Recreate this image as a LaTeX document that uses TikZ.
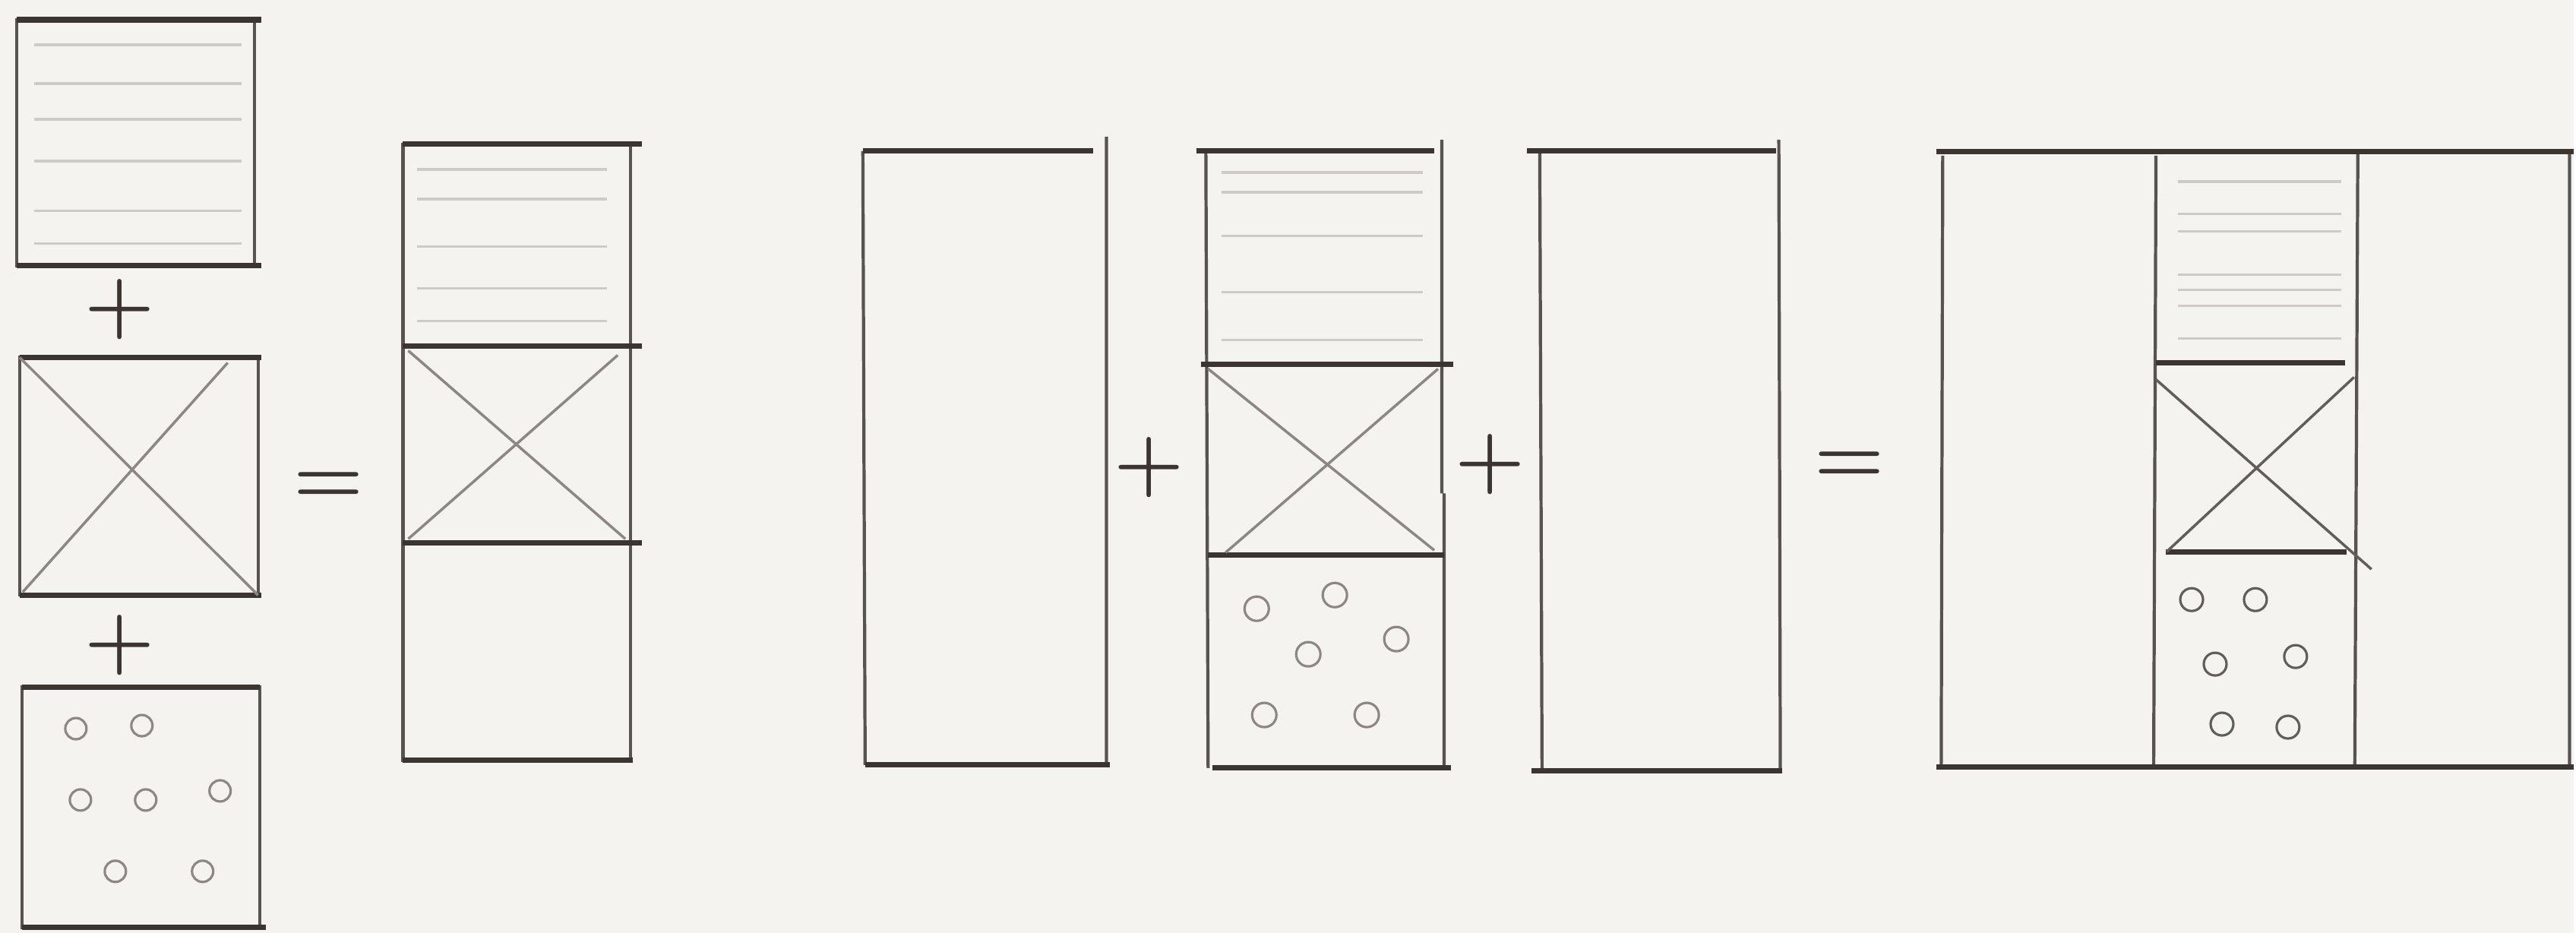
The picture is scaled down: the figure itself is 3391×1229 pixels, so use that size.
\documentclass[tikz,border=0pt]{standalone}
\usepackage{tikz}
\usetikzlibrary{positioning, calc}
\definecolor{paper}{HTML}{F4F3F0}
\definecolor{pencildark}{HTML}{3B3431}
\definecolor{pencilgrey}{HTML}{8E8683}
\definecolor{pencilfaint}{HTML}{CFCAC6}
\tikzset{
  edge/.style={draw=pencildark, line width=2pt},
  side/.style={draw=pencildark!85, line width=1.2pt},
  cross/.style={draw=pencilgrey, line width=1pt},
  hatch/.style={draw=pencilfaint, line width=1pt},
  grain/.style={draw=pencilgrey, line width=0.9pt},
  sign/.style={text=pencildark, font=\fontsize{30}{30}\selectfont\bfseries, inner sep=0pt}
}

\begin{document}
\begin{tikzpicture}[x=0.01cm, y=-0.01cm]
          % Papel
          \fill[paper] (0,0) rectangle (3391,1229);
          % Bloques sueltos (izquierda)
          \draw[side] (22,26) rectangle (335,350);
          \draw[edge] (22,26) -- (344,26) (22,350) -- (344,350);
          \foreach \yy in {59,110,157,212,278,321}
            \draw[hatch] (45,\yy) -- (318,\yy);
          \node[sign] (plusa) at (158,408) {+};
          \draw[side] (26,471) rectangle (340,784);
          \draw[edge] (26,471) -- (344,471) (26,784) -- (344,784);
          \draw[cross] (26,471) -- (340,784) (300,478) -- (30,780);
          \node[sign] (plusb) at (158,850) {+};
          \draw[side] (29,905) rectangle (342,1222);
          \draw[edge] (29,905) -- (342,905) (29,1222) -- (350,1222);
          \foreach \px/\py in {100/960, 187/956, 106/1054, 192/1054, 290/1042, 152/1148, 267/1148}
            \draw[grain] (\px,\py) circle (14);
          \node[sign] (eqa) at (433,643) {=};
          % Columna apilada
          \draw[side] (531,190) rectangle (831,1002);
          \draw[edge] (531,190) -- (846,190) (531,456) -- (846,456)
                      (531,715) -- (846,715) (531,1002) -- (834,1002);
          \foreach \yy in {223,262,325,380,423}
            \draw[hatch] (550,\yy) -- (800,\yy);
          \draw[cross] (538,462) -- (824,710) (814,468) -- (538,710);
          % Columna vacia A
          \draw[side] (1137,199) -- (1140,1008) (1458,180) -- (1458,1008);
          \draw[edge] (1137,199) -- (1440,199) (1140,1008) -- (1462,1008);
          \node[sign] (plusc) at (1514,616) {+};
          % Columna B con capas
          \draw[side] (1589,199) -- (1592,1012) (1900,184) -- (1900,650) (1903,650) -- (1903,1012);
          \draw[edge] (1577,199) -- (1890,199) (1583,480) -- (1915,480)
                      (1592,731) -- (1903,731) (1598,1012) -- (1912,1012);
          \foreach \yy in {227,253,311,385,448}
            \draw[hatch] (1610,\yy) -- (1875,\yy);
          \draw[cross] (1592,486) -- (1890,725) (1895,486) -- (1615,728);
          \foreach \px/\py in {1656/802, 1759/784, 1840/842, 1724/862, 1666/942, 1801/942}
            \draw[grain] (\px,\py) circle (16);
          \node[sign] (plusd) at (1964,612) {+};
          % Columna vacia C
          \draw[side] (2029,199) -- (2032,1016) (2344,184) -- (2346,1016);
          \draw[edge] (2012,199) -- (2340,199) (2018,1016) -- (2348,1016);
          \node[sign] (eqb) at (2437,616) {=};
          % Resultado
          \draw[side] (2560,205) -- (2558,1011) (2841,205) -- (2838,1011)
                      (3107,200) -- (3103,1011) (3386,200) -- (3386,1011);
          \draw[edge] (2552,200) -- (3391,200) (2552,1011) -- (3391,1011);
          \draw[edge] (2841,478) -- (3090,478) (2854,727) -- (3092,727);
          \foreach \yy in {239,282,305,362,382,403,446}
            \draw[hatch] (2870,\yy) -- (3085,\yy);
          \draw[cross, draw=pencildark!80] (2841,500) -- (3125,750) (3102,497) -- (2855,727);
          \foreach \px/\py in {2888/790, 2972/790, 2919/875, 3025/865, 2928/954, 3015/958}
            \draw[grain, draw=pencildark!80] (\px,\py) circle (15);
        \end{tikzpicture}
\end{document}
